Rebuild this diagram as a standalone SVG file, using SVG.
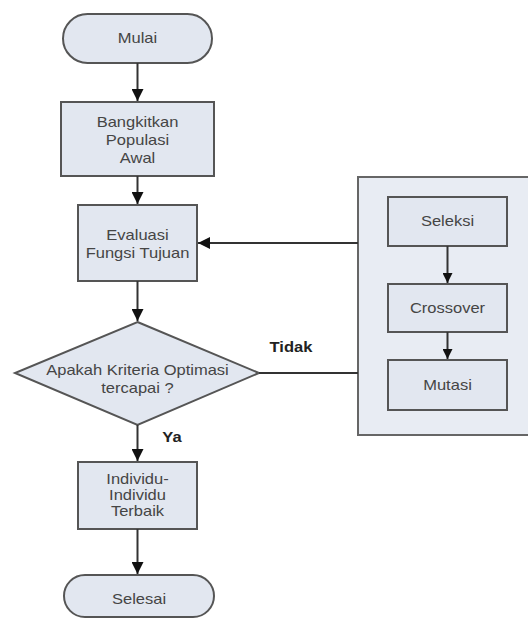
<svg xmlns="http://www.w3.org/2000/svg" width="528" height="619" viewBox="0 0 528 619">
<defs>
<style>
.shape{fill:#e2e7f0;stroke:#555;stroke-width:2}
.group{fill:#e8ecf3;stroke:#666;stroke-width:2}
.t{font-family:"Liberation Sans",Arial,sans-serif;font-size:14px;fill:#454545;text-anchor:middle}
.lbl{font-family:"Liberation Sans",Arial,sans-serif;font-size:14px;font-weight:bold;fill:#222;text-anchor:middle}
.ln{fill:none;stroke:#333;stroke-width:2}
</style>
<marker id="ah" viewBox="0 0 10 10" refX="10" refY="5" markerWidth="6" markerHeight="6" markerUnits="strokeWidth" orient="auto">
<path d="M0,0 L10,5 L0,10 Z" fill="#111"/>
</marker>
<marker id="ahs" viewBox="0 0 10 10" refX="10" refY="5" markerWidth="5" markerHeight="5" markerUnits="strokeWidth" orient="auto">
<path d="M0,0 L10,5 L0,10 Z" fill="#111"/>
</marker>
</defs>
<rect width="528" height="619" fill="#ffffff"/>
<g id="proses-genetika">
<rect class="group" x="358" y="177" width="174" height="258"/>
</g>
<g id="mulai">
<rect class="shape" x="63" y="14" width="149" height="49" rx="24.5" ry="24.5"/>
<text class="t" transform="translate(137.5,43) scale(1.18,1)">Mulai</text>
</g>
<g id="bangkitkan">
<rect class="shape" x="61" y="102" width="153" height="74"/>
<text class="t" transform="translate(137.5,127) scale(1.18,1)">Bangkitkan</text>
<text class="t" transform="translate(137.5,145) scale(1.18,1)">Populasi</text>
<text class="t" transform="translate(137.5,163) scale(1.18,1)">Awal</text>
</g>
<g id="evaluasi">
<rect class="shape" x="78" y="205" width="119" height="76"/>
<text class="t" transform="translate(137.5,240) scale(1.18,1)">Evaluasi</text>
<text class="t" transform="translate(137.5,258) scale(1.18,1)">Fungsi Tujuan</text>
</g>
<g id="kriteria">
<polygon class="shape" points="137.5,322 259,373 137.5,425 15,373"/>
<text class="t" transform="translate(137.5,375) scale(1.18,1)">Apakah Kriteria Optimasi</text>
<text class="t" transform="translate(137.5,393) scale(1.18,1)">tercapai ?</text>
</g>
<g id="individu">
<rect class="shape" x="78" y="462" width="119" height="67"/>
<text class="t" transform="translate(137.5,484) scale(1.18,1)">Individu-</text>
<text class="t" transform="translate(137.5,500) scale(1.18,1)">Individu</text>
<text class="t" transform="translate(137.5,516) scale(1.18,1)">Terbaik</text>
</g>
<g id="selesai">
<rect class="shape" x="64" y="575" width="150" height="42" rx="21" ry="21"/>
<text class="t" transform="translate(139,604) scale(1.18,1)">Selesai</text>
</g>
<g id="seleksi">
<rect class="shape" x="388" y="197" width="119" height="49"/>
<text class="t" transform="translate(447.5,226) scale(1.18,1)">Seleksi</text>
</g>
<g id="crossover">
<rect class="shape" x="388" y="284" width="119" height="48"/>
<text class="t" transform="translate(447.5,313) scale(1.18,1)">Crossover</text>
</g>
<g id="mutasi">
<rect class="shape" x="388" y="360" width="119" height="50"/>
<text class="t" transform="translate(447.5,390) scale(1.18,1)">Mutasi</text>
</g>
<g id="connectors">
<line class="ln" x1="137.5" y1="63" x2="137.5" y2="101" marker-end="url(#ah)"/>
<line class="ln" x1="137.5" y1="176" x2="137.5" y2="204" marker-end="url(#ah)"/>
<line class="ln" x1="137.5" y1="281" x2="137.5" y2="321" marker-end="url(#ah)"/>
<line class="ln" x1="137.5" y1="425" x2="137.5" y2="461" marker-end="url(#ah)"/>
<line class="ln" x1="137.5" y1="529" x2="137.5" y2="574" marker-end="url(#ah)"/>
<line class="ln" x1="358" y1="243" x2="198" y2="243" marker-end="url(#ah)"/>
<line class="ln" x1="259" y1="373" x2="358" y2="373"/>
<line class="ln" x1="447.5" y1="246" x2="447.5" y2="283" marker-end="url(#ahs)"/>
<line class="ln" x1="447.5" y1="332" x2="447.5" y2="359" marker-end="url(#ahs)"/>
<text class="lbl" transform="translate(291,352) scale(1.18,1)">Tidak</text>
<text class="lbl" transform="translate(172,442) scale(1.18,1)">Ya</text>
</g>
</svg>
